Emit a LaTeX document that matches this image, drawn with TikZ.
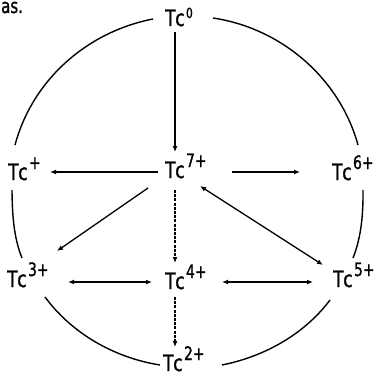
\documentclass[tikz,border=0pt]{standalone}
\usepackage{fontspec}
\setmainfont[FakeStretch=0.75,FakeBold=1.2]{DejaVu Sans}
\usetikzlibrary{arrows.meta}
\newcommand{\tcl}[3][18.5]{T\kern-0.3pt c\kern1.5pt\raisebox{#2}{\fontsize{#1}{#1}\selectfont #3}}
\begin{document}
\begin{tikzpicture}[x=1pt,y=-1pt,
  lab/.style={font=\fontsize{22.6}{24}\selectfont, inner sep=0pt, anchor=base west},
  conn/.style={line width=1.3pt},
  arr/.style={conn,-{Latex[length=6pt,width=5pt]}},
  darr/.style={conn,{Latex[length=6pt,width=5pt]}-{Latex[length=6pt,width=5pt]}},
  dotl/.style={dash pattern=on 3pt off 1.2pt},
  ring/.style={line width=1.4pt}]
\useasboundingbox (0,0) rectangle (379,374);
% texts
\node[lab, font=\fontsize{20}{22}\selectfont] (as) at (1,13) {as.};
\node[lab] (t0) at (165,26) {\tcl[14]{8pt}{0}};
\node[lab] (t7) at (165,178) {\tcl{11pt}{7+}};
\node[lab] (tp) at (8,180) {\tcl{11pt}{+}};
\node[lab] (t6) at (332,180) {\tcl{11pt}{6+}};
\node[lab] (t3) at (7,287) {\tcl{11pt}{3+}};
\node[lab] (t4) at (165,289) {\tcl{11pt}{4+}};
\node[lab] (t5) at (333,287) {\tcl{11pt}{5+}};
\node[lab] (t2) at (163,371) {\tcl{11pt}{2+}};
% straight arrows
\draw[arr] ([shift={(10,6)}]t0.base west) -- ([shift={(10,-26)}]t7.base west);
\draw[arr] ([shift={(-7,-6)}]t7.base west) -- ([shift={(42,-8)}]tp.base west);
\draw[arr] ([shift={(67,-6)}]t7.base west) -- ([shift={(-32,-8)}]t6.base west);
\draw[arr] ([shift={(-17,10)}]t7.base west) -- ([shift={(50,-36)}]t3.base west);
\draw[darr] ([shift={(35,8)}]t7.base west) -- ([shift={(-10,-22)}]t5.base west);
\draw[arr,dotl] ([shift={(10,12)}]t7.base west) -- ([shift={(10,-26)}]t4.base west);
\draw[arr,dotl] ([shift={(10,8)}]t4.base west) -- ([shift={(12,-24)}]t2.base west);
\draw[darr] ([shift={(61,-5)}]t3.base west) -- ([shift={(-13,-7)}]t4.base west);
\draw[darr] ([shift={(57,-7)}]t4.base west) -- ([shift={(-20,-5)}]t5.base west);
% ring
\draw[ring] ([shift={(-12,-7)}]t0.base west) to[out=191,in=75,looseness=0.92] ([shift={(7,-35)}]tp.base west);
\draw[ring] ([shift={(4,10)}]tp.base west) to[out=270.6,in=112,looseness=0.86] ([shift={(15,-29)}]t3.base west);
\draw[ring] ([shift={(38,10)}]t3.base west) to[out=306.5,in=171,looseness=0.88] ([shift={(-3,-6)}]t2.base west);
\draw[ring] ([shift={(48,-8)}]t0.base west) to[out=-8.5,in=105.4,looseness=0.92] ([shift={(26,-35)}]t6.base west);
\draw[ring] ([shift={(31,10)}]t6.base west) to[out=-89.4,in=68.3,looseness=0.86] ([shift={(20,-29)}]t5.base west);
\draw[ring] ([shift={(-3,13)}]t5.base west) to[out=-127,in=11.4,looseness=0.88] ([shift={(59,-6)}]t2.base west);
\end{tikzpicture}
\end{document}
